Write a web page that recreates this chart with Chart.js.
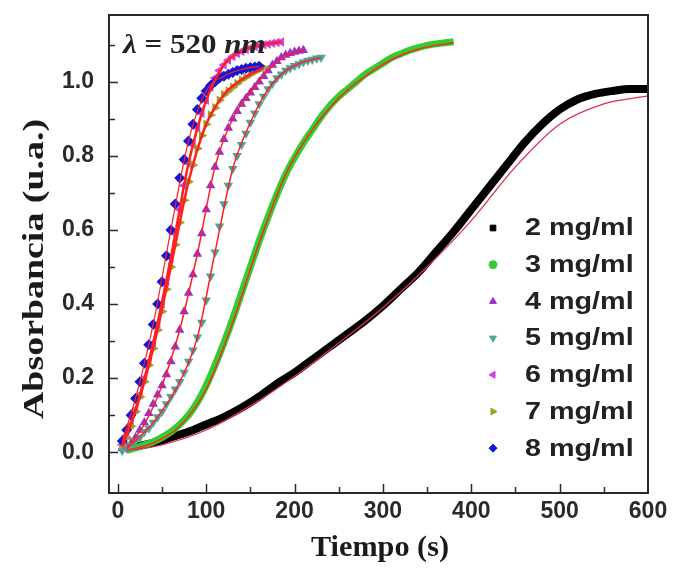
<!DOCTYPE html>
<html>
<head>
<meta charset="utf-8">
<script src="https://cdn.jsdelivr.net/npm/chart.js@4.4.1/dist/chart.umd.min.js"></script>
<style>
  body { margin: 0; background: #fff; }
</style>
</head>
<body>
<canvas id="absChart" width="673" height="571"></canvas>
<script>
// tick values
const xTicks = [0, 100, 200, 300, 400, 500, 600];
const xMinorTicks = [0, 50, 100, 150, 200, 250, 300, 350, 400, 450, 500, 550];
const yTicks = [0, 0.2, 0.4, 0.6, 0.8, 1.0];
const yMinorTicks = [0, 0.1, 0.2, 0.3, 0.4, 0.5, 0.6, 0.7, 0.8, 0.9, 1.0, 1.1];

const labels = ["2 mg/ml", "3 mg/ml", "4 mg/ml", "5 mg/ml", "6 mg/ml", "7 mg/ml", "8 mg/ml"];

// time (s)
const t2 = [10, 20, 40, 60, 80, 100, 120, 140, 160, 180, 200, 220, 240, 260, 280, 300, 320, 340, 360, 380, 400, 420, 440, 460, 480, 500, 520, 540, 560, 580, 600];
const t3 = [10, 20, 30, 40, 50, 60, 70, 80, 90, 100, 110, 120, 130, 140, 150, 160, 170, 180, 190, 200, 210, 220, 230, 240, 250, 260, 270, 280, 290, 300, 310, 320, 330, 340, 350, 360, 370, 380];
const t5s = [5, 10, 15, 20, 25, 30, 35, 40, 45, 50, 55, 60, 65, 70, 75, 80, 85, 90, 95, 100, 105, 110, 115, 120, 125, 130, 135, 140, 145, 150, 155, 160, 165, 170, 175, 180, 185, 190, 195, 200, 205, 210, 215, 220, 225, 230];

// absorbance
const abs2 = [0.01, 0.015, 0.025, 0.04, 0.055, 0.075, 0.095, 0.12, 0.15, 0.185, 0.215, 0.25, 0.285, 0.32, 0.355, 0.395, 0.44, 0.485, 0.54, 0.595, 0.655, 0.715, 0.775, 0.835, 0.885, 0.925, 0.952, 0.967, 0.975, 0.98, 0.98];
const abs3 = [0.005, 0.012, 0.02, 0.028, 0.04, 0.055, 0.075, 0.10, 0.135, 0.18, 0.235, 0.295, 0.36, 0.43, 0.50, 0.57, 0.635, 0.695, 0.75, 0.795, 0.835, 0.87, 0.905, 0.935, 0.96, 0.98, 1.0, 1.02, 1.035, 1.05, 1.065, 1.075, 1.085, 1.092, 1.098, 1.102, 1.105, 1.108];
const abs4 = [0.01, 0.015, 0.025, 0.04, 0.06, 0.08, 0.105, 0.13, 0.155, 0.18, 0.21, 0.245, 0.285, 0.33, 0.38, 0.43, 0.48, 0.535, 0.59, 0.655, 0.72, 0.77, 0.81, 0.845, 0.875, 0.90, 0.92, 0.94, 0.955, 0.97, 0.985, 1.0, 1.015, 1.03, 1.045, 1.055, 1.065, 1.072, 1.077, 1.08, 1.083, 1.085];
const abs5 = [0.005, 0.01, 0.02, 0.03, 0.04, 0.055, 0.065, 0.08, 0.095, 0.11, 0.13, 0.15, 0.17, 0.19, 0.215, 0.245, 0.275, 0.31, 0.35, 0.41, 0.475, 0.54, 0.61, 0.67, 0.72, 0.765, 0.80, 0.83, 0.86, 0.89, 0.915, 0.94, 0.96, 0.98, 0.995, 1.01, 1.02, 1.03, 1.037, 1.043, 1.048, 1.053, 1.057, 1.06, 1.063, 1.065];
const abs6 = [0.02, 0.045, 0.075, 0.115, 0.155, 0.2, 0.245, 0.295, 0.345, 0.40, 0.46, 0.525, 0.59, 0.655, 0.72, 0.78, 0.83, 0.875, 0.915, 0.95, 0.985, 1.01, 1.03, 1.045, 1.058, 1.068, 1.076, 1.082, 1.087, 1.091, 1.095, 1.098, 1.10, 1.102, 1.104, 1.106, 1.107];
const abs7 = [0.02, 0.04, 0.07, 0.11, 0.15, 0.19, 0.235, 0.28, 0.33, 0.38, 0.44, 0.50, 0.56, 0.62, 0.68, 0.73, 0.775, 0.82, 0.855, 0.885, 0.91, 0.93, 0.95, 0.965, 0.975, 0.985, 0.995, 1.005, 1.012, 1.02, 1.027, 1.033, 1.038];
const abs8 = [0.03, 0.06, 0.10, 0.145, 0.19, 0.24, 0.29, 0.345, 0.40, 0.46, 0.53, 0.60, 0.67, 0.74, 0.79, 0.84, 0.885, 0.925, 0.955, 0.975, 0.99, 1.00, 1.01, 1.015, 1.02, 1.025, 1.03, 1.033, 1.036, 1.038, 1.04, 1.042];

// fitted curves (red lines)
const fitT2 = [10, 50, 100, 150, 200, 250, 300, 350, 400, 450, 500, 550, 600];
const fit2 = [0.005, 0.02, 0.06, 0.125, 0.205, 0.295, 0.39, 0.5, 0.625, 0.77, 0.885, 0.94, 0.962];
const fitT3 = [10, 40, 70, 100, 130, 160, 190, 220, 250, 280, 310, 340, 380];
const fit3 = [0.005, 0.025, 0.07, 0.17, 0.35, 0.565, 0.75, 0.87, 0.955, 1.015, 1.06, 1.088, 1.105];
const fitT4 = [10, 30, 50, 70, 90, 110, 130, 150, 170, 190, 210];
const fit4 = [0.01, 0.075, 0.18, 0.33, 0.535, 0.77, 0.9, 0.97, 1.03, 1.07, 1.085];
const fitT5 = [10, 40, 70, 90, 110, 130, 150, 170, 190, 210, 230];
const fit5 = [0.01, 0.08, 0.19, 0.31, 0.54, 0.765, 0.89, 0.98, 1.03, 1.053, 1.065];
const fitT6 = [5, 20, 40, 60, 80, 100, 120, 140, 160, 185];
const fit6 = [0.02, 0.115, 0.295, 0.525, 0.78, 0.95, 1.045, 1.082, 1.098, 1.107];
const fitT7 = [5, 20, 40, 60, 80, 100, 120, 140, 165];
const fit7 = [0.015, 0.11, 0.28, 0.50, 0.73, 0.885, 0.965, 1.005, 1.038];
const fitT8 = [5, 20, 40, 60, 80, 100, 120, 140, 160];
const fit8 = [0.03, 0.145, 0.345, 0.60, 0.84, 0.975, 1.015, 1.033, 1.042];

const pts = (ts, vs) => vs.map((v, i) => ({ x: ts[i], y: v }));

const styles = [
  { color: "#000000", pointStyle: "rect", rotation: 0 },
  { color: "#33cc33", pointStyle: "circle", rotation: 0 },
  { color: "#9932cc", pointStyle: "triangle", rotation: 0 },
  { color: "#4fa39b", pointStyle: "triangle", rotation: 180 },
  { color: "#cc44dd", pointStyle: "triangle", rotation: -90 },
  { color: "#a0a02c", pointStyle: "triangle", rotation: 90 },
  { color: "#1515d8", pointStyle: "rectRot", rotation: 0 }
];

function markerSet(i, data) {
  return {
    data: data,
    showLine: false,
    order: 10 - i,
    pointStyle: styles[i].pointStyle,
    rotation: styles[i].rotation,
    pointRadius: 5.5,
    pointBackgroundColor: styles[i].color,
    pointBorderColor: styles[i].color,
    pointBorderWidth: 0
  };
}

function thickSet(i, data, w) {
  return {
    data: data,
    showLine: true,
    order: 10 - i,
    borderColor: styles[i].color,
    borderWidth: w,
    pointRadius: 0,
    cubicInterpolationMode: "monotone"
  };
}

function fitSet(data, color, w) {
  return {
    data: data,
    showLine: true,
    order: 0,
    borderColor: color,
    borderWidth: w,
    pointRadius: 0,
    cubicInterpolationMode: "monotone"
  };
}

// text squeezed/stretched along its length, centred on (cx, cy)
function stretchText(ctx, text, cx, cy, targetW, angle) {
  const w = ctx.measureText(text).width;
  ctx.save();
  ctx.translate(cx, cy);
  ctx.rotate(angle);
  ctx.scale(targetW / w, 1);
  ctx.textAlign = "center";
  ctx.textBaseline = "middle";
  ctx.fillText(text, 0, 0);
  ctx.restore();
}

const extras = {
  id: "extras",
  afterDraw(chart) {
    const { ctx, chartArea: a, scales: { x, y } } = chart;
    ctx.save();
    ctx.strokeStyle = "#2a2a2a";
    ctx.lineWidth = 2;
    ctx.strokeRect(a.left, a.top, a.right - a.left, a.bottom - a.top);
    ctx.lineWidth = 1.5;
    ctx.beginPath();
    xMinorTicks.forEach(v => {
      const px = Math.round(x.getPixelForValue(v)) + 0.5;
      const len = v % 100 === 0 ? 9 : 6;
      ctx.moveTo(px, a.bottom);
      ctx.lineTo(px, a.bottom - len);
    });
    yMinorTicks.forEach((v, i) => {
      const py = Math.round(y.getPixelForValue(v)) + 0.5;
      const len = i % 2 === 0 ? 9 : 6;
      ctx.moveTo(a.left, py);
      ctx.lineTo(a.left + len, py);
    });
    ctx.stroke();

    // axis titles
    ctx.fillStyle = "#1a1a1a";
    ctx.font = "bold 30px 'Liberation Serif'";
    stretchText(ctx, "Absorbancia (u.a.)", 35, 269, 300, -Math.PI / 2);
    ctx.font = "bold 29px 'Liberation Serif'";
    stretchText(ctx, "Tiempo (s)", 380, 549, 138, 0);

    // wavelength note
    ctx.fillStyle = "#222";
    ctx.textBaseline = "alphabetic";
    ctx.translate(123, 53);
    ctx.scale(1.15, 1);
    let tx = 0;
    ctx.font = "italic bold 27px 'Liberation Serif'";
    ctx.fillText("λ", tx, 0);
    tx += ctx.measureText("λ").width;
    ctx.font = "bold 27px 'Liberation Serif'";
    ctx.fillText(" = 520 ", tx, 0);
    tx += ctx.measureText(" = 520 ").width;
    ctx.font = "italic bold 27px 'Liberation Serif'";
    ctx.fillText("nm", tx, 0);
    ctx.setTransform(1, 0, 0, 1, 0, 0);

    // legend
    ctx.font = "bold 23px 'Liberation Sans'";
    ctx.textBaseline = "middle";
    labels.forEach((lab, i) => {
      const ly = 228 + i * 36.7;
      ctx.fillStyle = styles[i].color;
      ctx.strokeStyle = styles[i].color;
      ctx.lineWidth = 1;
      Chart.helpers.drawPoint(ctx, { pointStyle: styles[i].pointStyle, rotation: styles[i].rotation, radius: 4, borderWidth: 1 }, 493, ly);
      ctx.fillStyle = "#222";
      ctx.save();
      ctx.translate(525, ly);
      ctx.scale(1.25, 1);
      ctx.fillText(lab, 0, 1);
      ctx.restore();
    });
    ctx.restore();
  }
};

new Chart(document.getElementById("absChart"), {
  type: "scatter",
  data: {
    datasets: [
      fitSet(pts(fitT2, fit2), "#e0304e", 1.3),
      fitSet(pts(fitT3, fit3), "#ff2a1a", 1.5),
      fitSet(pts(fitT4, fit4), "#ff2020", 1.5),
      fitSet(pts(fitT5, fit5), "#ff2020", 1.5),
      fitSet(pts(fitT6, fit6), "#ff2020", 2.5),
      fitSet(pts(fitT7, fit7), "#ff2020", 2.5),
      fitSet(pts(fitT8, fit8), "#ff2020", 1.2),
      thickSet(0, pts(t2, abs2), 8),
      thickSet(1, pts(t3, abs3), 7),
      markerSet(2, pts(t5s, abs4)),
      markerSet(3, pts(t5s, abs5)),
      markerSet(4, pts(t5s, abs6)),
      markerSet(5, pts(t5s, abs7)),
      markerSet(6, pts(t5s, abs8))
    ]
  },
  options: {
    responsive: false,
    animation: false,
    layout: { padding: { top: 15, right: 25, bottom: 0, left: 0 } },
    plugins: {
      legend: { display: false },
      tooltip: { enabled: false }
    },
    scales: {
      x: {
        type: "linear",
        min: -10,
        max: 600,
        afterFit: (s) => { s.height = 78; s.paddingLeft = 0; s.paddingRight = 0; },
        afterBuildTicks: (s) => { s.ticks = xTicks.map(v => ({ value: v })); },
        grid: { display: false, drawTicks: false },
        border: { display: false },
        ticks: { color: "#2a2a2a", padding: 5, maxRotation: 0, font: { family: "'Liberation Sans'", size: 23, weight: "bold" } }
      },
      y: {
        min: -0.11,
        max: 1.18,
        afterFit: (s) => { s.width = 109; s.paddingTop = 0; s.paddingBottom = 0; },
        afterBuildTicks: (s) => { s.ticks = yTicks.map(v => ({ value: v })); },
        grid: { display: false, drawTicks: false },
        border: { display: false },
        ticks: { color: "#2a2a2a", padding: 15, callback: (v) => v.toFixed(1), font: { family: "'Liberation Sans'", size: 23, weight: "bold" } }
      }
    }
  },
  plugins: [extras]
});
</script>
</body>
</html>
